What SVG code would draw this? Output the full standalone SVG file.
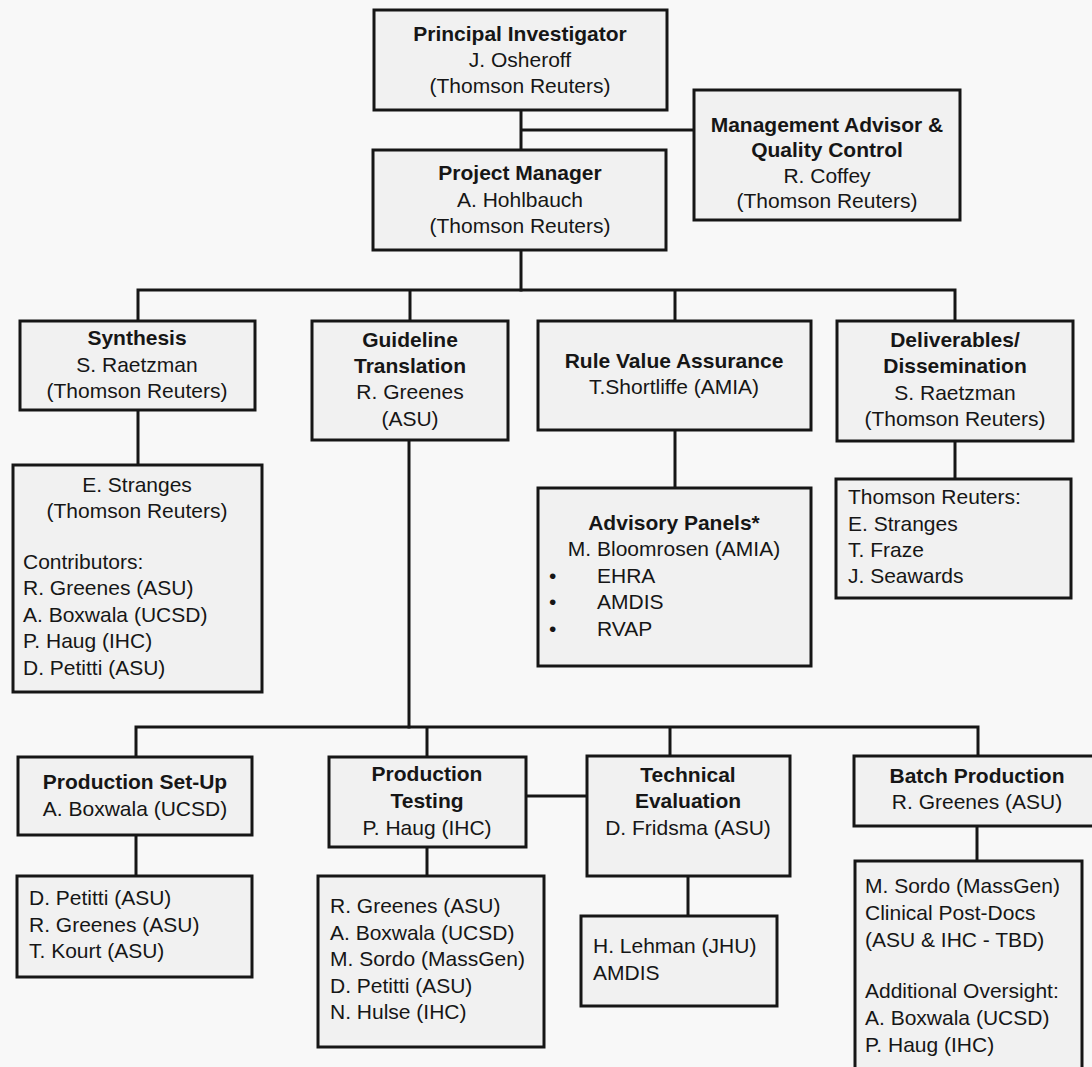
<svg xmlns="http://www.w3.org/2000/svg" width="1092" height="1067" viewBox="0 0 1092 1067">
<style>
  .box { fill: #f1f1f1; stroke: #161616; stroke-width: 3; }
  .conn { stroke: #161616; stroke-width: 3; fill: none; stroke-linecap: square; }
  text { font-family: "Liberation Sans", Arial, sans-serif; font-size: 21px; fill: #161616; }
  .c { text-anchor: middle; }
  .b { font-weight: bold; }
</style>
<rect x="0" y="0" width="1092" height="1067" fill="#f8f8f8"/>

<g id="connectors">
  <path class="conn" d="M521 110 V250 M521 130 H694 M521 250 V290"/>
  <path class="conn" d="M138 321 V290 H955 V321 M410 290 V321 M675 290 V321"/>
  <path class="conn" d="M138 410 V465 M675 430 V488 M955 441 V479"/>
  <path class="conn" d="M409 440 V727"/>
  <path class="conn" d="M136 757 V727 H978 V756 M427 727 V757 M670 727 V756"/>
  <path class="conn" d="M136 835 V876 M427 847 V876 M526 796 H587 M688 876 V916 M977 826 V861"/>
</g>

<g id="principal-investigator">
  <rect class="box" x="374" y="10" width="293" height="100"/>
  <text class="c b" x="520" y="41">Principal Investigator</text>
  <text class="c" x="520" y="67">J. Osheroff</text>
  <text class="c" x="520" y="93">(Thomson Reuters)</text>
</g>

<g id="management-advisor">
  <rect class="box" x="694" y="90" width="266" height="130"/>
  <text class="c b" x="827" y="132">Management Advisor &amp;</text>
  <text class="c b" x="827" y="157">Quality Control</text>
  <text class="c" x="827" y="183">R. Coffey</text>
  <text class="c" x="827" y="208">(Thomson Reuters)</text>
</g>

<g id="project-manager">
  <rect class="box" x="373" y="150" width="293" height="100"/>
  <text class="c b" x="520" y="180">Project Manager</text>
  <text class="c" x="520" y="207">A. Hohlbauch</text>
  <text class="c" x="520" y="233">(Thomson Reuters)</text>
</g>

<g id="synthesis">
  <rect class="box" x="20" y="321" width="235" height="89"/>
  <text class="c b" x="137" y="345">Synthesis</text>
  <text class="c" x="137" y="372">S. Raetzman</text>
  <text class="c" x="137" y="398">(Thomson Reuters)</text>
</g>

<g id="synthesis-team">
  <rect class="box" x="13" y="465" width="249" height="227"/>
  <text class="c" x="137" y="492">E. Stranges</text>
  <text class="c" x="137" y="518">(Thomson Reuters)</text>
  <text x="23" y="569">Contributors:</text>
  <text x="23" y="595">R. Greenes (ASU)</text>
  <text x="23" y="622">A. Boxwala (UCSD)</text>
  <text x="23" y="648">P. Haug (IHC)</text>
  <text x="23" y="675">D. Petitti (ASU)</text>
</g>

<g id="guideline-translation">
  <rect class="box" x="312" y="321" width="196" height="119"/>
  <text class="c b" x="410" y="347">Guideline</text>
  <text class="c b" x="410" y="373">Translation</text>
  <text class="c" x="410" y="399">R. Greenes</text>
  <text class="c" x="410" y="426">(ASU)</text>
</g>

<g id="rule-value-assurance">
  <rect class="box" x="538" y="321" width="273" height="109"/>
  <text class="c b" x="674" y="368">Rule Value Assurance</text>
  <text class="c" x="674" y="394">T.Shortliffe (AMIA)</text>
</g>

<g id="advisory-panels">
  <rect class="box" x="538" y="488" width="273" height="178"/>
  <text class="c b" x="674" y="530">Advisory Panels*</text>
  <text class="c" x="674" y="556">M. Bloomrosen (AMIA)</text>
  <text x="549" y="583">•</text>
  <text x="597" y="583">EHRA</text>
  <text x="549" y="609">•</text>
  <text x="597" y="609">AMDIS</text>
  <text x="549" y="636">•</text>
  <text x="597" y="636">RVAP</text>
</g>

<g id="deliverables">
  <rect class="box" x="837" y="321" width="236" height="120"/>
  <text class="c b" x="955" y="347">Deliverables/</text>
  <text class="c b" x="955" y="373">Dissemination</text>
  <text class="c" x="955" y="400">S. Raetzman</text>
  <text class="c" x="955" y="426">(Thomson Reuters)</text>
</g>

<g id="deliverables-team">
  <rect class="box" x="836" y="479" width="235" height="119"/>
  <text x="848" y="504">Thomson Reuters:</text>
  <text x="848" y="531">E. Stranges</text>
  <text x="848" y="557">T. Fraze</text>
  <text x="848" y="583">J. Seawards</text>
</g>

<g id="production-setup">
  <rect class="box" x="18" y="757" width="234" height="78"/>
  <text class="c b" x="135" y="789">Production Set-Up</text>
  <text class="c" x="135" y="816">A. Boxwala (UCSD)</text>
</g>

<g id="production-setup-team">
  <rect class="box" x="17" y="876" width="235" height="101"/>
  <text x="29" y="905">D. Petitti (ASU)</text>
  <text x="29" y="932">R. Greenes (ASU)</text>
  <text x="29" y="958">T. Kourt (ASU)</text>
</g>

<g id="production-testing">
  <rect class="box" x="329" y="757" width="197" height="90"/>
  <text class="c b" x="427" y="781">Production</text>
  <text class="c b" x="427" y="808">Testing</text>
  <text class="c" x="427" y="835">P. Haug (IHC)</text>
</g>

<g id="production-testing-team">
  <rect class="box" x="318" y="876" width="226" height="171"/>
  <text x="330" y="913">R. Greenes (ASU)</text>
  <text x="330" y="940">A. Boxwala (UCSD)</text>
  <text x="330" y="966">M. Sordo (MassGen)</text>
  <text x="330" y="993">D. Petitti (ASU)</text>
  <text x="330" y="1019">N. Hulse (IHC)</text>
</g>

<g id="technical-evaluation">
  <rect class="box" x="587" y="756" width="203" height="120"/>
  <text class="c b" x="688" y="782">Technical</text>
  <text class="c b" x="688" y="808">Evaluation</text>
  <text class="c" x="688" y="835">D. Fridsma (ASU)</text>
</g>

<g id="technical-evaluation-team">
  <rect class="box" x="581" y="916" width="196" height="90"/>
  <text x="593" y="953">H. Lehman (JHU)</text>
  <text x="593" y="980">AMDIS</text>
</g>

<g id="batch-production">
  <rect class="box" x="854" y="756" width="246" height="70"/>
  <text class="c b" x="977" y="783">Batch Production</text>
  <text class="c" x="977" y="809">R. Greenes (ASU)</text>
</g>

<g id="batch-production-team">
  <rect class="box" x="855" y="861" width="227" height="215"/>
  <text x="865" y="893">M. Sordo (MassGen)</text>
  <text x="865" y="920">Clinical Post-Docs</text>
  <text x="865" y="947">(ASU &amp; IHC - TBD)</text>
  <text x="865" y="998">Additional Oversight:</text>
  <text x="865" y="1025">A. Boxwala (UCSD)</text>
  <text x="865" y="1052">P. Haug (IHC)</text>
</g>
</svg>
